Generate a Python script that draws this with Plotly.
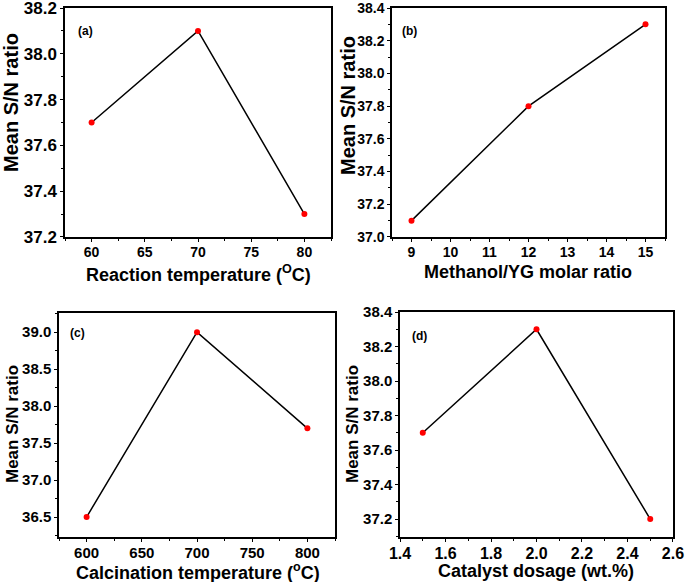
import plotly.graph_objects as go

W, H = 685, 582

# ---- data ----
temp_a = [60, 70, 80]
sn_a = [37.7, 38.1, 37.3]
ratio_b = [9, 12, 15]
sn_b = [37.1, 37.8, 38.3]
calc_c = [600, 700, 800]
sn_c = [36.5, 39.0, 37.7]
dose_d = [1.5, 2.0, 2.5]
sn_d = [37.7, 38.3, 37.2]

panel_labels = ["(a)", "(b)", "(c)", "(d)"]
x_titles = ["Reaction temperature (<sup>O</sup>C)", "Methanol/YG molar ratio",
            "Calcination temperature (<sup>o</sup>C)", "Catalyst dosage (wt.%)"]
y_title = "Mean S/N ratio"

FONT = "Arial, Liberation Sans, sans-serif"

def px_x(p):
    return p / W

def px_y(p):
    return 1 - p / H

# plot boxes in screen pixels: (left, right, top, bottom)
boxes = [(65, 331, 8, 237), (392, 665, 8, 237), (59, 335, 313, 537), (400, 673, 312, 537)]
xranges = [[57.5, 82.5], [8.5, 15.5], [575, 825], [1.3999, 2.6001]]
yranges = [[37.1999, 38.2001], [36.9999, 38.4001], [36.23, 39.26], [37.096, 38.4001]]
xdticks = [5, 1, 50, 0.2]
ydticks = [0.2, 0.2, 0.5, 0.2]
xfmts = ["d", "d", "d", ".1f"]
ytickfont = [17, 14, 15, 15]
xtickfont = [14, 14, 15, 16]
xs = [temp_a, ratio_b, calc_c, dose_d]
ys = [sn_a, sn_b, sn_c, sn_d]

fig = go.Figure()
layout = dict(template="none", width=W, height=H, margin=dict(l=0, r=0, t=0, b=0, pad=0),
              plot_bgcolor="white", paper_bgcolor="white", showlegend=False,
              font=dict(family=FONT, color="black"))
annotations = []

for i in range(4):
    n = "" if i == 0 else str(i + 1)
    xa, ya = "x" + n, "y" + n
    fig.add_trace(go.Scatter(
        x=xs[i], y=ys[i], xaxis=xa, yaxis=ya, mode="lines+markers",
        line=dict(color="black", width=1.5),
        marker=dict(color="red", size=6, line=dict(width=0)),
        cliponaxis=False,
    ))
    l, r, t, b = boxes[i]
    common = dict(showline=True, linecolor="black", linewidth=1.5, mirror=True,
                  ticks="outside", ticklen=3, tickwidth=1, tickcolor="black",
                  showgrid=False, zeroline=False, automargin=False,
                  ticklabeloverflow="allow")
    layout["xaxis" + n] = dict(
        domain=[px_x(l), px_x(r)], range=xranges[i], anchor=ya,
        dtick=xdticks[i], tick0=0, tickformat=xfmts[i], ticklabelstandoff=-2,
        tickfont=dict(size=xtickfont[i], weight="bold", family=FONT, color="black"),
        minor=dict(dtick=xdticks[i] / 2, tick0=0, ticks="outside", ticklen=2, tickcolor="black"),
        **common)
    layout["yaxis" + n] = dict(
        domain=[px_y(b), px_y(t)], range=yranges[i], anchor=xa,
        dtick=ydticks[i], tick0=0, tickformat=".1f",
        tickfont=dict(size=ytickfont[i], weight="bold", family=FONT, color="black"),
        minor=dict(dtick=ydticks[i] / 2, tick0=0, ticks="outside", ticklen=2, tickcolor="black"),
        **common)

def ann(text, px, py, size, angle=0):
    return dict(text=text, x=px_x(px), y=px_y(py), xref="paper", yref="paper",
                xanchor="center", yanchor="middle", showarrow=False, textangle=angle,
                font=dict(size=size, family=FONT, color="black"))

# panel labels (pixel centers)
lab_pos = [(85, 31), (409, 31), (77, 333), (419, 336)]
for i, (px, py) in enumerate(lab_pos):
    annotations.append(ann("<b>" + panel_labels[i] + "</b>", px, py, 12))

# x titles
xt_pos = [(198, 273, 18), (528, 272, 18), (198, 571, 18), (536, 571, 18)]
for i, (px, py, fs) in enumerate(xt_pos):
    annotations.append(ann("<b>" + x_titles[i] + "</b>", px, py, fs))

# y titles
yt_pos = [(11, 103, 20), (348, 105, 20), (12, 424, 17), (352, 424, 17)]
for i, (px, py, fs) in enumerate(yt_pos):
    annotations.append(ann("<b>" + y_title + "</b>", px, py, fs, -90))

layout["annotations"] = annotations
fig.update_layout(**layout)
fig.write_html("out.html", config={"displayModeBar": False},
               post_script="document.body.style.margin='0px';")
